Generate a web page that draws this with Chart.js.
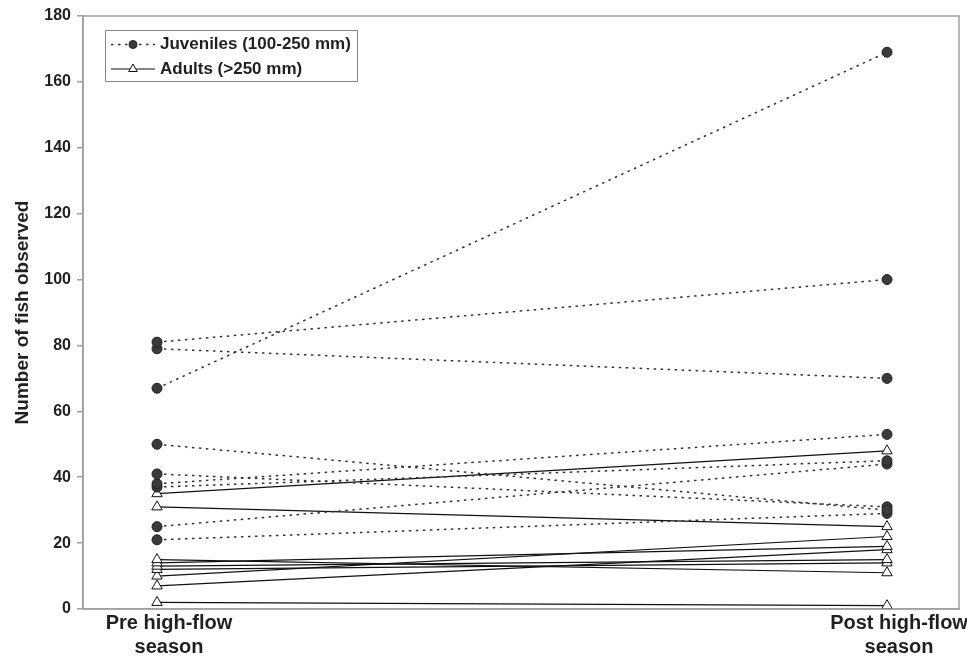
<!DOCTYPE html>
<html>
<head>
<meta charset="utf-8">
<script src="https://cdn.jsdelivr.net/npm/chart.js@4/dist/chart.umd.min.js"></script>
<style>
  html, body { margin: 0; padding: 0; background: #fff; }
  #wrap { width: 967px; height: 658px; position: relative; }
</style>
</head>
<body>
<div id="wrap"><canvas id="c" width="967" height="658"></canvas></div>
<script>
// ---- data ----
const categories = ['Pre high-flow season', 'Post high-flow season'];
const xTickLabels = [['Pre high-flow', 'season'], ['Post high-flow', 'season']];
const yTicks = [0, 20, 40, 60, 80, 100, 120, 140, 160, 180];
const seriesNames = ['Juveniles (100-250 mm)', 'Adults (>250 mm)'];
const juvenilesPre  = [81, 79, 67, 50, 41, 38, 37, 25, 21];
const juvenilesPost = [100, 70, 169, 30, 31, 53, 45, 44, 29];
const adultsPre  = [35, 31, 15, 14, 13, 12, 10, 7, 2];
const adultsPost = [48, 25, 11, 19, 15, 14, 22, 18, 1];

// ---- styles ----
const FONT = "'Liberation Sans', Arial, sans-serif";
const TEXT = '#231f20';
const AXIS = '#a0a0a0';
const juvStyle = {
  borderColor: '#333', borderWidth: 1.5, borderDash: [2.5, 4.5],
  pointStyle: 'circle', pointRadius: 5, pointBackgroundColor: '#3a3a3a',
  pointBorderColor: '#222', pointBorderWidth: 1
};
const adStyle = {
  borderColor: '#111', borderWidth: 1.2, borderDash: [],
  pointStyle: 'triangle', pointRadius: 6, pointBackgroundColor: '#fff',
  pointBorderColor: '#111', pointBorderWidth: 1
};

const datasets = [];
juvenilesPre.forEach((v, i) => {
  datasets.push(Object.assign({
    label: seriesNames[0],
    data: [{x: 0, y: v}, {x: 1, y: juvenilesPost[i]}]
  }, juvStyle));
});
adultsPre.forEach((v, i) => {
  datasets.push(Object.assign({
    label: seriesNames[1],
    data: [{x: 0, y: v}, {x: 1, y: adultsPost[i]}]
  }, adStyle));
});

// frame (top / right border) + legend box
const framePlugin = {
  id: 'frame',
  afterDraw(chart) {
    const ctx = chart.ctx, a = chart.chartArea;
    ctx.save();
    ctx.strokeStyle = AXIS;
    ctx.lineWidth = 1.5;
    ctx.strokeRect(a.left, a.top, a.right - a.left, a.bottom - a.top);

    // legend
    const lx = 105, ly = 30, lw = 252, lh = 51;
    ctx.fillStyle = '#fff';
    ctx.fillRect(lx, ly, lw, lh);
    ctx.strokeStyle = '#888';
    ctx.lineWidth = 1;
    ctx.strokeRect(lx + 0.5, ly + 0.5, lw, lh);

    const rows = [
      {y: 44.5, s: juvStyle, t: seriesNames[0]},
      {y: 69, s: adStyle, t: seriesNames[1]}
    ];
    rows.forEach(r => {
      ctx.save();
      ctx.strokeStyle = r.s.borderColor;
      ctx.lineWidth = r.s.borderWidth;
      ctx.setLineDash(r.s.borderDash);
      ctx.beginPath();
      ctx.moveTo(111, r.y);
      ctx.lineTo(155, r.y);
      ctx.stroke();
      ctx.restore();
      ctx.save();
      ctx.fillStyle = r.s.pointBackgroundColor;
      ctx.strokeStyle = r.s.pointBorderColor;
      ctx.lineWidth = r.s.pointBorderWidth;
      ctx.beginPath();
      if (r.s.pointStyle === 'circle') {
        ctx.arc(133, r.y, 4, 0, Math.PI * 2);
      } else {
        const rad = 5;
        ctx.moveTo(133, r.y - rad);
        ctx.lineTo(133 + rad * 0.866, r.y + rad * 0.5);
        ctx.lineTo(133 - rad * 0.866, r.y + rad * 0.5);
        ctx.closePath();
      }
      ctx.fill();
      ctx.stroke();
      ctx.restore();

      ctx.fillStyle = TEXT;
      ctx.font = "bold 17px " + FONT;
      ctx.textBaseline = 'middle';
      ctx.textAlign = 'left';
      ctx.fillText(r.t, 160, r.y);
    });
    ctx.restore();
  }
};

new Chart(document.getElementById('c'), {
  type: 'line',
  data: { datasets },
  options: {
    responsive: false,
    animation: false,
    layout: { padding: { top: 16, right: 8, left: 0, bottom: 0 } },
    plugins: { legend: { display: false }, tooltip: { enabled: false } },
    elements: { line: { tension: 0, fill: false } },
    scales: {
      x: {
        type: 'linear',
        min: -0.1014,
        max: 1.0986,
        afterBuildTicks(scale) { scale.ticks = [{value: 0}, {value: 1}]; },
        afterFit(scale) { scale.height = 49; },
        grid: { display: false, drawTicks: false },
        border: { display: true, color: AXIS, width: 1.5 },
        ticks: {
          callback: (v) => xTickLabels[v === 0 ? 0 : 1],
          font: { family: FONT, size: 20, weight: 'bold', lineHeight: 1.2 },
          color: TEXT,
          padding: 2,
          labelOffset: 12,
          maxRotation: 0,
          autoSkip: false
        }
      },
      y: {
        min: 0,
        max: 180,
        afterBuildTicks(scale) { scale.ticks = yTicks.map(v => ({value: v})); },
        afterFit(scale) { scale.width = 83; },
        grid: { drawOnChartArea: false, drawTicks: true, tickLength: 6, color: AXIS, lineWidth: 1.5 },
        border: { display: true, color: AXIS, width: 1.5 },
        ticks: {
          font: { family: FONT, size: 16, weight: 'bold' },
          color: TEXT,
          padding: 6
        },
        title: {
          display: true,
          text: 'Number of fish observed',
          font: { family: FONT, size: 19, weight: 'bold' },
          color: TEXT,
          padding: { top: 11, bottom: 0 }
        }
      }
    }
  },
  plugins: [framePlugin]
});
</script>
</body>
</html>
